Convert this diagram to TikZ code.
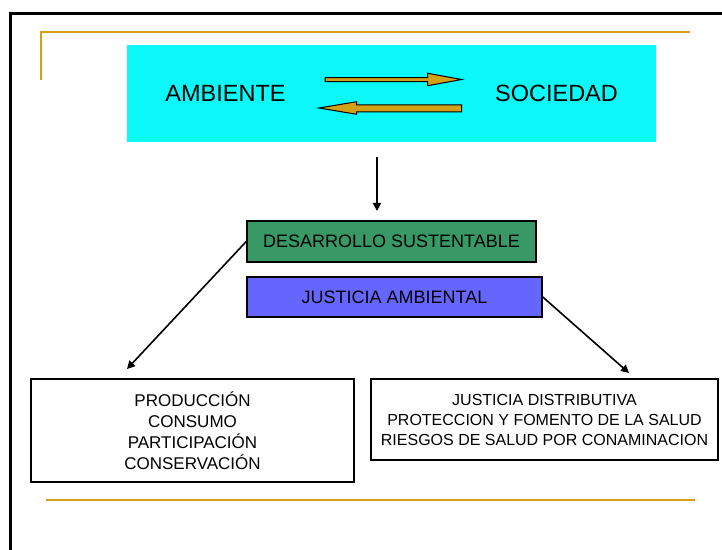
\documentclass[tikz,border=0pt]{standalone}
\usepackage{fontspec}
\setmainfont{Liberation Sans}
\usetikzlibrary{arrows.meta}
\definecolor{gold}{RGB}{212,160,23}
\definecolor{skyc}{RGB}{10,248,248}
\definecolor{dgreen}{RGB}{56,153,102}
\definecolor{lblue}{RGB}{102,102,255}
\begin{document}
\begin{tikzpicture}[x=1bp,y=-1bp,
 box/.style={draw=black,line width=1.5bp,inner sep=0pt,anchor=center},
 conn/.style={line width=1.6bp,-{Triangle[length=8bp,width=8bp]}},
 goldline/.style={draw=gold,line width=2bp},
 goldarrow/.style={fill=gold,draw=black,line width=1bp,line join=miter},
 bigtxt/.style={font=\fontsize{23.5bp}{28bp}\selectfont,inner sep=0pt},
 midtxt/.style={font=\fontsize{18bp}{22bp}\selectfont}]
\useasboundingbox (0,0) rectangle (722,550);
\fill[white] (0,0) rectangle (722,550);
\draw[line width=3bp] (10.5,550) -- (10.5,13.5) -- (722,13.5);
\draw[goldline] (41,80) -- (41,32) -- (690,32);
\draw[goldline] (46,500) -- (695,500);
\node[fill=skyc, minimum width=529bp, minimum height=97bp, inner sep=0pt] (top) at (391.5,93.5) {};
\node[bigtxt] (amb) at (225.5,93.5) {AMBIENTE};
\node[bigtxt] (soc) at (556.5,93.5) {SOCIEDAD};
\draw[goldarrow] (325,77.7) -- (427.7,77.7) -- (427.7,73.3) -- (461.7,79.5) -- (427.7,85.7) -- (427.7,81.7) -- (325,81.7) -- cycle;
\draw[goldarrow] (461.7,105) -- (356.7,105) -- (356.7,101.7) -- (319,108) -- (356.7,114.3) -- (356.7,112) -- (461.7,112) -- cycle;
\node[box, fill=dgreen, minimum width=289bp, minimum height=41bp, midtxt] (ds) at (391.5,241.5) {DESARROLLO SUSTENTABLE};
\node[box, fill=lblue, minimum width=295bp, minimum height=40bp, midtxt] (ja) at (394.5,297) {JUSTICIA AMBIENTAL};
\node[box, minimum width=323bp, minimum height=103bp, align=center, font=\fontsize{17bp}{21bp}\selectfont] (left) at (192.5,430.5) {PRODUCCIÓN\\CONSUMO\\PARTICIPACIÓN\\CONSERVACIÓN};
\node[box, minimum width=347bp, minimum height=81bp, align=center, font=\fontsize{16bp}{20bp}\selectfont] (right) at (544.5,419.5) {JUSTICIA DISTRIBUTIVA\\PROTECCION Y FOMENTO DE LA SALUD\\RIESGOS DE SALUD POR CONAMINACION};
\coordinate (d1) at (377,157);
\coordinate (d2) at (377,211);
\draw[conn] (d1) -- (d2);
\coordinate (lt) at (127,369);
\draw[conn] (ds.west) -- (lt);
\coordinate (rt) at (629,373);
\draw[conn] (ja.east) -- (rt);
\end{tikzpicture}
\end{document}
